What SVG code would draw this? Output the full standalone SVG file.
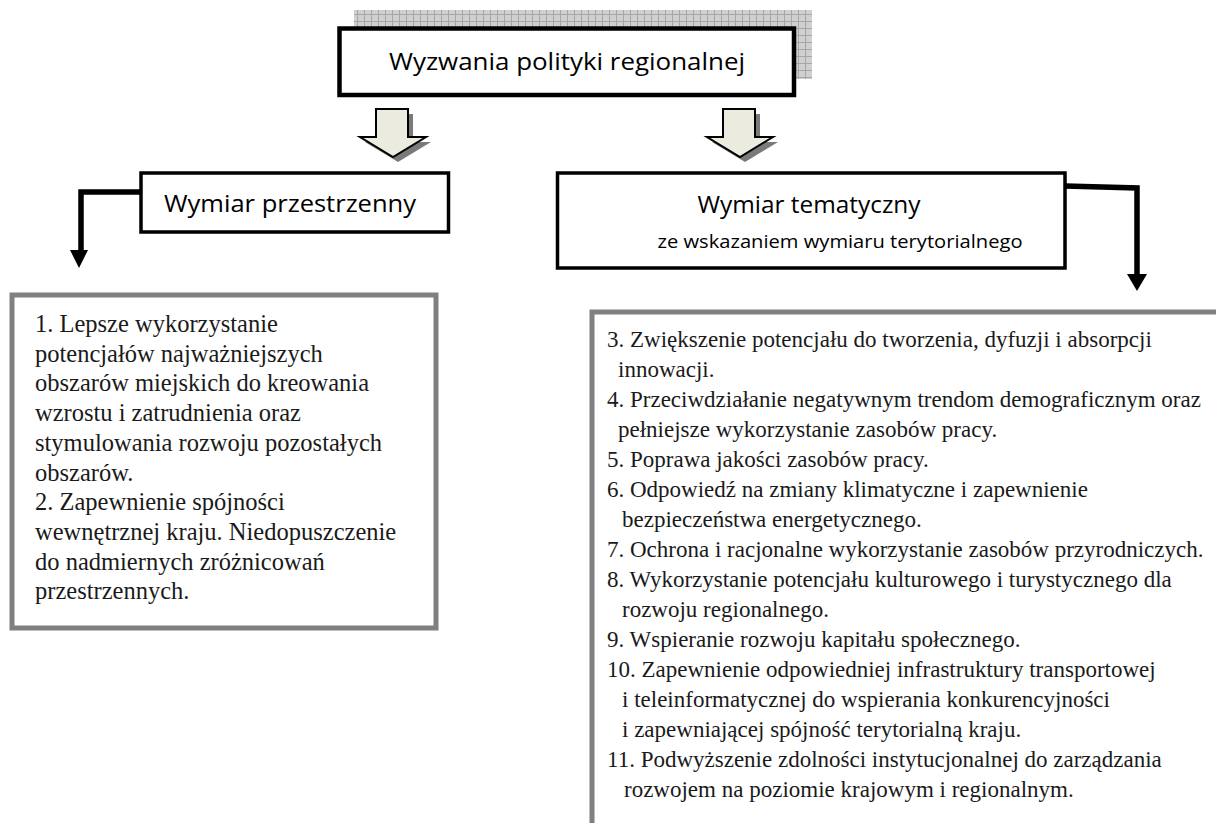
<svg xmlns="http://www.w3.org/2000/svg" width="1216" height="823" viewBox="0 0 1216 823">
<defs>
<pattern id="grid" width="7" height="7" patternUnits="userSpaceOnUse">
<rect width="7" height="7" fill="#d0d0d0"/>
<path d="M0 0.5H7M0.5 0V7" stroke="#a6a6a6" stroke-width="1"/>
</pattern>
<style>
.hdr{font-family:"Open Sans","Liberation Sans",sans-serif;fill:#000}
.body{font-family:"Liberation Serif","Times New Roman",serif;fill:#1a1a1a}
.bx{fill:#fff;stroke:#000}
.gbox{fill:#fff;stroke:#808080;stroke-width:5}
.blk{fill:#ecebe0;stroke:#000;stroke-width:2;stroke-linejoin:miter}
.shd{fill:#7a7a7a}
.con{fill:none;stroke:#000;stroke-width:5.5}
</style>
</defs>
<rect width="1216" height="823" fill="#fff"/>

<g id="node-top">
<rect x="354" y="10" width="458" height="69" fill="url(#grid)"/>
<rect class="bx" x="339.5" y="28.5" width="454.5" height="66.5" stroke-width="4.5"/>
<text class="hdr" x="567" y="70" font-size="24" text-anchor="middle" textLength="356" lengthAdjust="spacingAndGlyphs">Wyzwania polityki regionalnej</text>
</g>

<g id="arrow-left">
<path class="shd" d="M381 114H413V142H431L398 162L365 142H381Z"/>
<path class="blk" d="M376 109H408V137H426L393 157L360 137H376Z"/>
</g>
<g id="arrow-right">
<path class="shd" d="M728 114H760V142H778L745 162L712 142H728Z"/>
<path class="blk" d="M723 109H755V137H773L740 157L707 137H723Z"/>
</g>

<g id="node-przestrzenny">
<rect class="bx" x="141" y="173" width="307.5" height="59" stroke-width="3.5"/>
<text class="hdr" x="290" y="212" font-size="24" text-anchor="middle" textLength="252" lengthAdjust="spacingAndGlyphs">Wymiar przestrzenny</text>
</g>

<g id="node-tematyczny">
<rect class="bx" x="557.5" y="173" width="507.5" height="95" stroke-width="3.5"/>
<text class="hdr" x="809" y="213" font-size="24" text-anchor="middle" textLength="223" lengthAdjust="spacingAndGlyphs">Wymiar tematyczny</text>
<text class="hdr" x="840" y="248" font-size="19" text-anchor="middle" textLength="365" lengthAdjust="spacingAndGlyphs">ze wskazaniem wymiaru terytorialnego</text>
</g>

<g id="connectors">
<path class="con" d="M141 192H81V252"/>
<polygon points="70,250 88,250 79,268" fill="#000"/>
<path class="con" d="M1065 186L1137 188V276"/>
<polygon points="1127,274 1147,274 1137,291" fill="#000"/>
</g>

<g id="node-spatial-list">
<rect class="gbox" x="12" y="295" width="424" height="333"/>
<g class="body" font-size="24.5">
<text x="35" y="332">1. Lepsze wykorzystanie</text>
<text x="35" y="361.7">potencjałów najważniejszych</text>
<text x="35" y="391.4">obszarów miejskich do kreowania</text>
<text x="35" y="421.1">wzrostu i zatrudnienia oraz</text>
<text x="35" y="450.8">stymulowania rozwoju pozostałych</text>
<text x="35" y="480.5">obszarów.</text>
<text x="35" y="510.2">2. Zapewnienie spójności</text>
<text x="35" y="539.9">wewnętrznej kraju. Niedopuszczenie</text>
<text x="35" y="569.6">do nadmiernych zróżnicowań</text>
<text x="35" y="599.3">przestrzennych.</text>
</g>
</g>

<g id="node-thematic-list">
<rect class="gbox" x="592" y="312" width="700" height="600"/>
<g class="body" font-size="23">
<text x="607" y="347">3. Zwiększenie potencjału do tworzenia, dyfuzji i absorpcji</text>
<text x="618" y="377">innowacji.</text>
<text x="607" y="407">4. Przeciwdziałanie negatywnym trendom demograficznym oraz</text>
<text x="618" y="437">pełniejsze wykorzystanie zasobów pracy.</text>
<text x="607" y="467">5. Poprawa jakości zasobów pracy.</text>
<text x="607" y="497">6. Odpowiedź na zmiany klimatyczne i zapewnienie</text>
<text x="622" y="527">bezpieczeństwa energetycznego.</text>
<text x="607" y="557">7. Ochrona i racjonalne wykorzystanie zasobów przyrodniczych.</text>
<text x="607" y="587">8. Wykorzystanie potencjału kulturowego i turystycznego dla</text>
<text x="622" y="617">rozwoju regionalnego.</text>
<text x="607" y="647">9. Wspieranie rozwoju kapitału społecznego.</text>
<text x="607" y="677">10. Zapewnienie odpowiedniej infrastruktury transportowej</text>
<text x="622" y="707">i teleinformatycznej do wspierania konkurencyjności</text>
<text x="622" y="737">i zapewniającej spójność terytorialną kraju.</text>
<text x="607" y="767">11. Podwyższenie zdolności instytucjonalnej do zarządzania</text>
<text x="624" y="797">rozwojem na poziomie krajowym i regionalnym.</text>
</g>
</g>
</svg>
